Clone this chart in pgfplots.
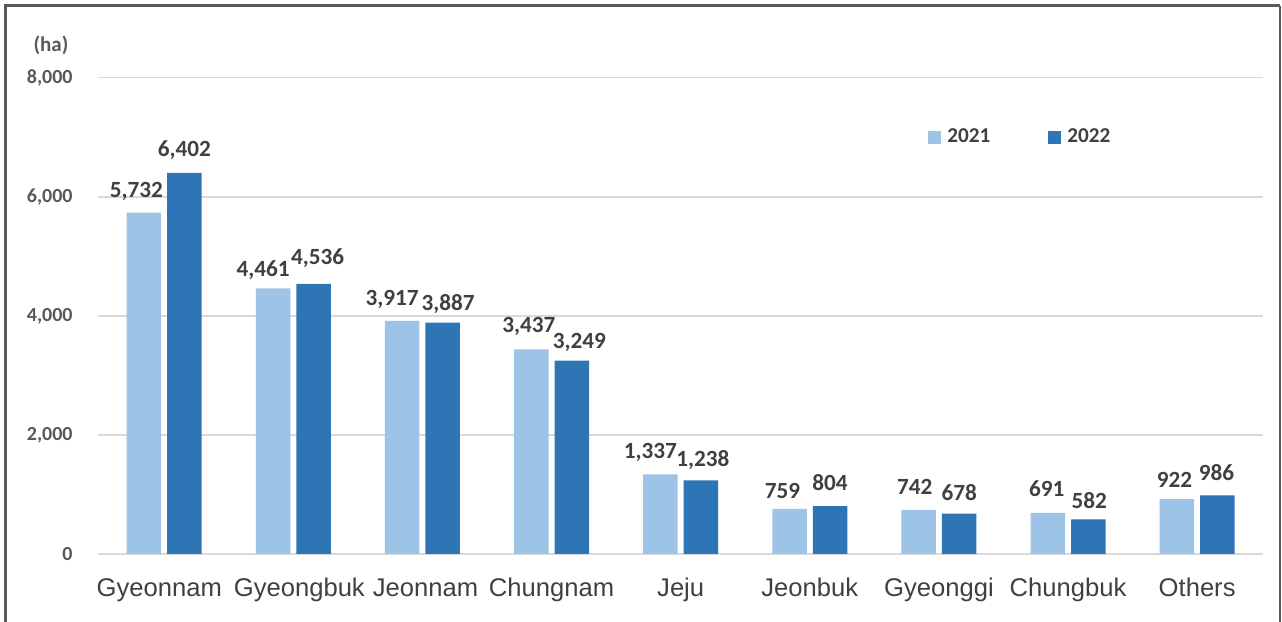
\documentclass[border=0pt]{standalone}
\usepackage{fontspec}
\setmainfont{Carlito}
\newfontfamily\arialf{Liberation Sans}
\usepackage{pgfplots}
\pgfplotsset{compat=1.18}
\usepackage{pgfplotstable}
\definecolor{lb}{HTML}{9DC3E6}
\definecolor{db}{HTML}{2E75B6}
\definecolor{txt}{HTML}{404040}
\definecolor{tickc}{HTML}{595959}
\definecolor{gridc}{HTML}{D9D9D9}
\definecolor{framec}{HTML}{5A5A5A}

\pgfplotstableread{
x y dx gap
0 5732 -7.5 15.7
1 4461 -10 12
2 3917 -10 15
3 3437 -2.5 16.6
4 1337 -10 16
5 759 -7 10
6 742 -4 15.7
7 691 -1 16.7
8 922 -2.5 11.6
}\tA
\pgfplotstableread{
x y dx gap
0 6402 0 16.7
1 4536 4 19
2 3887 5.5 12
3 3249 7.5 12.4
4 1238 2 13.4
5 804 0 15.7
6 678 0 12.7
7 582 1 11
8 986 -1 14.3
}\tB

\begin{document}
\begin{tikzpicture}
\path[use as bounding box] (0,0) rectangle (641pt,311pt);
\draw[framec, line width=1.5pt] (2.5pt,-2pt) -- (2.5pt,308pt) -- (640pt,308pt);
\draw[framec, line width=1pt] (640pt,308pt) -- (640pt,-2pt);
\node[font=\bfseries\fontsize{10.5}{12}\selectfont, text=tickc] at (25.5pt,288.5pt) {(ha)};
\begin{axis}[
  at={(49pt,34pt)}, anchor=south west,
  scale only axis, width=582.5pt, height=238.15pt,
  xmin=-0.513, xmax=8.51, ymin=0, ymax=8000,
  ybar=3pt, bar width=17.25pt,
  xtick=data,
  xticklabels={\hspace*{-5pt}Gyeonnam,\hspace*{6pt}Gyeongbuk,\hspace*{3pt}Jeonnam,Chungnam,Jeju,Jeonbuk,Gyeonggi,Chungbuk,Others},
  ytick={0,2000,4000,6000,8000},
  scaled y ticks=false,
  /pgf/number format/assume math mode=true,
  /pgf/number format/1000 sep={,},
  axis line style={draw=none},
  tick style={draw=none},
  ymajorgrids,
  major grid style={gridc, line width=0.75pt},
  xticklabel style={font=\arialf\fontsize{12.8}{15}\selectfont, text=txt, anchor=base, yshift=-17pt},
  yticklabel style={font=\bfseries\fontsize{10}{12}\selectfont, text=tickc, anchor=east, inner sep=0pt, xshift=-12.5pt},
  nodes near coords={\pgfmathprintnumber[fixed, precision=0, 1000 sep={,}]{\pgfplotspointmeta}},
  point meta=y,
  visualization depends on={\thisrow{dx} \as \dx},
  visualization depends on={\thisrow{gap} \as \gap},
  every node near coord/.append style={font=\bfseries\fontsize{11.6}{13}\selectfont, text=txt, anchor=base, inner sep=0pt, xshift={0.5pt*(\dx)}, yshift={0.5pt*(\gap)}},
  legend style={at={(0.7124,0.8755)}, anchor=west, draw=none, fill=none, inner sep=0pt,
    font=\bfseries\fontsize{10.6}{12}\selectfont, text=txt,
    nodes={inner sep=0pt, anchor=west},
    /tikz/every odd column/.append style={column sep=3pt},
    /tikz/every even column/.append style={column sep=29pt}},
  legend columns=2,
]
\addplot[fill=lb, draw=none, legend image code/.code={\fill[lb] (0pt,-3.25pt) rectangle (6.5pt,3.25pt);}] table[x=x, y=y] {\tA};
\addplot[fill=db, draw=none, legend image code/.code={\fill[db] (0pt,-3.25pt) rectangle (6.5pt,3.25pt);}] table[x=x, y=y] {\tB};
\legend{2021,2022}
\end{axis}
\end{tikzpicture}
\end{document}
